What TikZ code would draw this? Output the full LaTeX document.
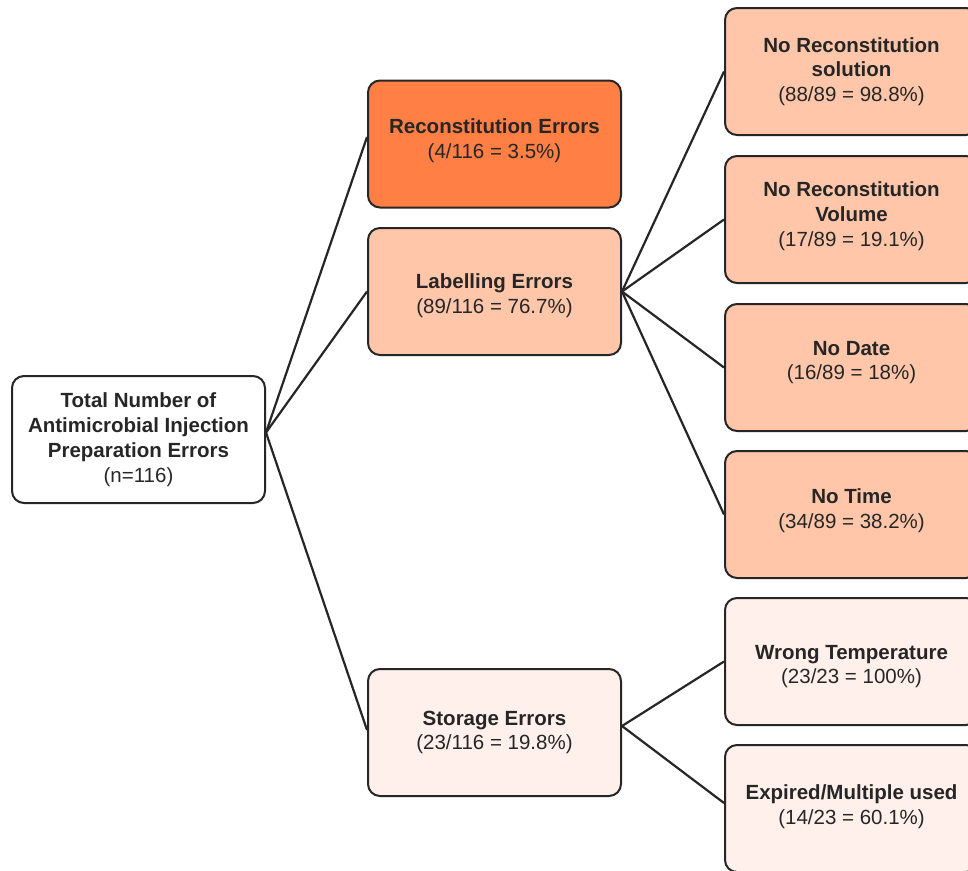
\documentclass[tikz,border=0pt]{standalone}
\usepackage{fontspec}
\setmainfont{Liberation Sans}
\definecolor{ink}{HTML}{262626}
\definecolor{darkor}{HTML}{FF7F45}
\definecolor{midor}{HTML}{FFC6AA}
\definecolor{paleor}{HTML}{FFF0EB}
\tikzset{
  box/.style={draw=ink, line width=2pt, rounded corners=12pt, minimum width=253pt,
    minimum height=127pt, inner sep=0pt},
  txt/.style={align=center, text=ink, inner sep=0pt, font=\fontsize{20.5}{24.8}\selectfont},
  link/.style={draw=ink, line width=2.2pt},
}
\newcommand{\hd}[1]{\textbf{#1}}
\begin{document}
\begin{tikzpicture}[x=1pt,y=-1pt]
\useasboundingbox (0,0) rectangle (968,870);
\clip (0,0) rectangle (968,870);
\fill[white] (0,0) rectangle (968,870);
% boxes
\node[box, fill=white] (root) at (138.5,439.5) {};
\node[box, fill=darkor] (rec) at (494.5,144) {};
\node[box, fill=midor] (lab) at (494.5,291.5) {};
\node[box, fill=paleor] (sto) at (494.5,732.5) {};
\node[box, fill=midor] (l1) at (851.5,71.5) {};
\node[box, fill=midor] (l2) at (851.5,219.5) {};
\node[box, fill=midor] (l3) at (851.5,367.5) {};
\node[box, fill=midor] (l4) at (851.5,514.5) {};
\node[box, fill=paleor] (s1) at (851.5,661.5) {};
\node[box, fill=paleor] (s2) at (851.5,808.5) {};
% texts
\node[txt] (rootT) at (138.5,439.5) {\hd{Total Number of}\\\hd{Antimicrobial Injection}\\\hd{Preparation Errors}\\(n=116)};
\node[txt] (recT) at (494.5,141) {\hd{Reconstitution Errors}\\(4/116 = 3.5\%)};
\node[txt] (labT) at (494.5,295.5) {\hd{Labelling Errors}\\(89/116 = 76.7\%)};
\node[txt] (stoT) at (494.5,732.5) {\hd{Storage Errors}\\(23/116 = 19.8\%)};
\node[txt] (l1T) at (851.5,71.5) {\hd{No Reconstitution}\\\hd{solution}\\(88/89 = 98.8\%)};
\node[txt] (l2T) at (851.5,216) {\hd{No Reconstitution}\\\hd{Volume}\\(17/89 = 19.1\%)};
\node[txt] (l3T) at (851.5,362.5) {\hd{No Date}\\(16/89 = 18\%)};
\node[txt] (l4T) at (851.5,510.5) {\hd{No Time}\\(34/89 = 38.2\%)};
\node[txt] (s1T) at (851.5,666.5) {\hd{Wrong Temperature}\\(23/23 = 100\%)};
\node[txt] (s2T) at (851.5,806.5) {\hd{Expired/Multiple used}\\(14/23 = 60.1\%)};
% anchor points
\coordinate (rootR) at ([yshift=7pt]root.east);
\coordinate (recL) at ([yshift=7pt]rec.west);
\coordinate (stoL) at ([yshift=2.5pt]sto.west);
\coordinate (stoR) at ([yshift=6.5pt]sto.east);
\coordinate (s2L) at ([yshift=5.5pt]s2.west);
% connectors
\draw[link] (rootR) -- (recL);
\draw[link] (rootR) -- (lab.west);
\draw[link] (rootR) -- (stoL);
\draw[link] (lab.east) -- (l1.west);
\draw[link] (lab.east) -- (l2.west);
\draw[link] (lab.east) -- (l3.west);
\draw[link] (lab.east) -- (l4.west);
\draw[link] (stoR) -- (s1.west);
\draw[link] (stoR) -- (s2L);
\end{tikzpicture}
\end{document}
